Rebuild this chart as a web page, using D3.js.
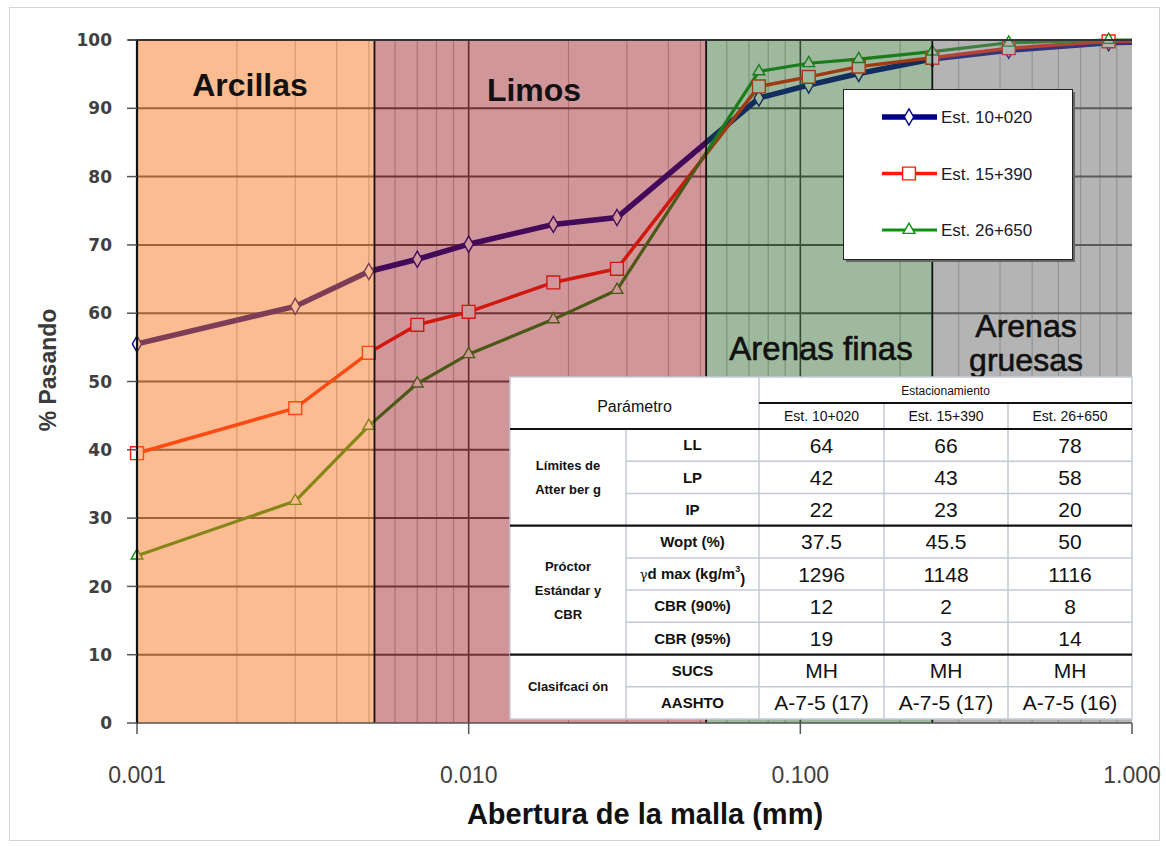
<!DOCTYPE html>
<meta charset="utf-8">
<style>
body { margin: 0; background: #fff; }
svg { display: block; }
.ytick text { font: bold 17px "DejaVu Sans", sans-serif; fill: #404040; }
.xtick text { font: 23px "Liberation Sans", sans-serif; fill: #404040; }
.zone-label { font-family: "Liberation Sans", Arial, sans-serif; fill: #111; }
.legend text { font: 17px "Liberation Sans", sans-serif; fill: #1a1a2a; }
.tbl text { font-family: "Liberation Sans", Arial, sans-serif; fill: #111; text-anchor: middle; }
</style>
<svg width="1166" height="846"></svg>
<script src="https://d3js.org/d3.v7.min.js"></script>
<script>

// sieve openings (mm) and % passing per station
var sizes     = [0.001, 0.003, 0.005, 0.007, 0.010, 0.018, 0.028, 0.075, 0.106, 0.150, 0.250, 0.425, 0.850, 2.0];
var est10020  = [55.5, 61.0, 66.1, 67.9, 70.1, 73.0, 74.0, 91.5, 93.4, 95.1, 97.2, 98.5, 99.6, 100];
var est15390  = [39.5, 46.1, 54.2, 58.3, 60.2, 64.5, 66.5, 93.2, 94.6, 96.1, 97.4, 98.8, 99.8, 100];
var est26650  = [24.5, 32.5, 43.5, 49.7, 54.0, 59.1, 63.4, 95.4, 96.6, 97.2, 98.3, 99.6, 100, 100];
var seriesNames = ["Est. 10+020", "Est. 15+390", "Est. 26+650"];

// soil zones
var zoneNames  = ["Arcillas", "Limos", "Arenas finas", "Arenas gruesas"];
var zoneBounds = [0.001, 0.0052, 0.052, 0.25, 1];

var yTicks = [0, 10, 20, 30, 40, 50, 60, 70, 80, 90, 100];
var xTicks = [0.001, 0.01, 0.1, 1];
var xTickLabels = ["0.001", "0.010", "0.100", "1.000"];

// table
var paramLabels = ["LL", "LP", "IP", "Wopt (%)", "γd max (kg/m3)", "CBR (90%)", "CBR (95%)", "SUCS", "AASHTO"];
var groupLabels = [["Límites de", "Atter ber g"], ["Próctor", "Estándar y", "CBR"], ["Clasifcaci ón"]];
var groupSizes  = [3, 4, 2];
var props10020  = ["64", "42", "22", "37.5", "1296", "12", "19", "MH", "A-7-5 (17)"];
var props15390  = ["66", "43", "23", "45.5", "1148", "2", "3", "MH", "A-7-5 (17)"];
var props26650  = ["78", "58", "20", "50", "1116", "8", "14", "MH", "A-7-5 (16)"];

var svg = d3.select("svg");

var x = d3.scaleLog().domain([0.001, 1]).range([137, 1132]);
var y = d3.scaleLinear().domain([0, 100]).range([723, 40]);

// outer frame
svg.append("rect").attr("x", 9.5).attr("y", 7.5).attr("width", 1150).attr("height", 833)
    .attr("fill", "#fff").attr("stroke", "#d4d4d4");

svg.append("clipPath").attr("id", "plotclip")
  .append("rect").attr("x", 120).attr("y", 20).attr("width", 1012).attr("height", 720);

// grid
var grid = svg.append("g");
var minor = [];
[0.001, 0.01, 0.1].forEach(function(d) {
  for (var k = 2; k <= 9; k++) minor.push(d * k);
});
grid.selectAll(".minor").data(minor).enter().append("line")
    .attr("x1", x).attr("x2", x).attr("y1", y(0)).attr("y2", y(100))
    .attr("stroke", "#bcbcbc").attr("stroke-width", 1.2);
grid.selectAll(".major").data([0.01, 0.1]).enter().append("line")
    .attr("x1", x).attr("x2", x).attr("y1", y(0)).attr("y2", y(100))
    .attr("stroke", "#3a3a3a").attr("stroke-width", 1.6);
grid.selectAll(".hgrid").data(yTicks.slice(1)).enter().append("line")
    .attr("x1", x(0.001)).attr("x2", x(1)).attr("y1", y).attr("y2", y)
    .attr("stroke", "#4a4a4a").attr("stroke-width", 2);

// series
var series = [
  {name: seriesNames[0], values: est10020, color: "#00008b", width: 5.5, shape: d3.symbolDiamond, size: 75},
  {name: seriesNames[1], values: est15390, color: "#ff1a00", width: 3.5, shape: d3.symbolSquare, size: 165},
  {name: seriesNames[2], values: est26650, color: "#109010", width: 3.2, shape: d3.symbolTriangle, size: 60}
];

var line = d3.line()
    .x(function(d) { return x(d[0]); })
    .y(function(d) { return y(d[1]); });

var plot = svg.append("g").attr("clip-path", "url(#plotclip)");
series.forEach(function(s) {
  var pts = sizes.map(function(d, i) { return [d, s.values[i]]; });
  plot.append("path")
      .attr("d", line(pts))
      .attr("fill", "none")
      .attr("stroke", s.color)
      .attr("stroke-width", s.width)
      .attr("stroke-linejoin", "round");
});
series.forEach(function(s) {
  var pts = sizes.map(function(d, i) { return [d, s.values[i]]; }).filter(function(p) { return p[0] <= 1; });
  plot.selectAll(null).data(pts).enter().append("path")
      .attr("transform", function(p) { return "translate(" + x(p[0]) + "," + y(p[1]) + ")"; })
      .attr("d", d3.symbol().type(s.shape).size(s.size))
      .attr("fill", "#fff")
      .attr("stroke", s.color)
      .attr("stroke-width", 1.4);
});

// translucent zones over everything
var zoneFill = ["rgba(249,122,36,0.5)", "rgba(150,22,32,0.45)", "rgba(40,100,40,0.45)", "rgba(105,105,105,0.5)"];
svg.append("g").selectAll("rect").data(zoneNames).enter().append("rect")
    .attr("x", function(d, i) { return x(zoneBounds[i]); })
    .attr("width", function(d, i) { return x(zoneBounds[i + 1]) - x(zoneBounds[i]); })
    .attr("y", y(100)).attr("height", y(0) - y(100))
    .attr("fill", function(d, i) { return zoneFill[i]; });

svg.append("g").selectAll("line").data(zoneBounds.slice(1, 4)).enter().append("line")
    .attr("x1", x).attr("x2", x).attr("y1", y(100)).attr("y2", y(0))
    .attr("stroke", "#111").attr("stroke-width", 1.8);

// zone labels
var zl = svg.append("g").attr("class", "zone-label");
zl.append("text").attr("x", 250).attr("y", 96).attr("text-anchor", "middle")
    .attr("font-size", 32).attr("font-weight", "bold").text(zoneNames[0]);
zl.append("text").attr("x", 534).attr("y", 101).attr("text-anchor", "middle")
    .attr("font-size", 32).attr("font-weight", "bold").text(zoneNames[1]);
zl.append("text").attr("x", 821).attr("y", 360).attr("text-anchor", "middle")
    .attr("font-size", 33).attr("stroke", "#111").attr("stroke-width", 0.6).text(zoneNames[2]);
var gr = zoneNames[3].split(" ");
zl.append("text").attr("x", 1026).attr("y", 337).attr("text-anchor", "middle")
    .attr("font-size", 32).attr("stroke", "#111").attr("stroke-width", 0.6).text(gr[0]);
zl.append("text").attr("x", 1026).attr("y", 371).attr("text-anchor", "middle")
    .attr("font-size", 32).attr("stroke", "#111").attr("stroke-width", 0.6).text(gr[1]);

// axes
svg.append("line").attr("x1", 128).attr("x2", x(1)).attr("y1", y(100)).attr("y2", y(100))
    .attr("stroke", "#333").attr("stroke-width", 2);
svg.append("line").attr("x1", x(0.001)).attr("x2", x(1)).attr("y1", y(0)).attr("y2", y(0))
    .attr("stroke", "#555").attr("stroke-width", 1.5);
svg.append("line").attr("x1", x(0.001)).attr("x2", x(0.001)).attr("y1", y(100)).attr("y2", y(0) + 1)
    .attr("stroke", "#111").attr("stroke-width", 2.2);

var yt = svg.append("g").attr("class", "ytick").selectAll("g").data(yTicks).enter().append("g")
    .attr("transform", function(d) { return "translate(0," + y(d) + ")"; });
yt.append("line").attr("x1", 127).attr("x2", 137).attr("stroke", "#555").attr("stroke-width", 1.5);
yt.append("text").attr("x", 112).attr("dy", "0.36em").attr("text-anchor", "end").text(function(d) { return d; });

var xt = svg.append("g").attr("class", "xtick").selectAll("g").data(xTicks).enter().append("g")
    .attr("transform", function(d) { return "translate(" + x(d) + ",0)"; });
xt.append("line").attr("y1", y(0)).attr("y2", y(0) + 11).attr("stroke", "#555").attr("stroke-width", 1.5);
xt.append("text").attr("y", 783).attr("text-anchor", "middle").text(function(d, i) { return xTickLabels[i]; });

svg.append("text").attr("x", 645).attr("y", 824).attr("text-anchor", "middle")
    .style("font", "bold 29px 'Liberation Sans Narrow', 'Liberation Sans', sans-serif")
    .attr("fill", "#111").text("Abertura de la malla (mm)");
svg.append("text").attr("transform", "translate(56,370) rotate(-90)").attr("text-anchor", "middle")
    .style("font", "bold 23px 'Liberation Sans', sans-serif")
    .attr("fill", "#3a3a3a").text("% Pasando");

// legend
var lg = svg.append("g").attr("class", "legend");
lg.append("rect").attr("x", 846).attr("y", 92).attr("width", 229).attr("height", 170).attr("fill", "#666");
lg.append("rect").attr("x", 843.5).attr("y", 89.5).attr("width", 229).attr("height", 170)
    .attr("fill", "#fff").attr("stroke", "#222").attr("stroke-width", 1);
series.forEach(function(s, i) {
  var ly = 117 + i * 56.5;
  lg.append("line").attr("x1", 882).attr("x2", 937).attr("y1", ly).attr("y2", ly)
      .attr("stroke", s.color).attr("stroke-width", s.width);
  lg.append("path").attr("transform", "translate(909," + ly + ")")
      .attr("d", d3.symbol().type(s.shape).size(s.size))
      .attr("fill", "#fff").attr("stroke", s.color).attr("stroke-width", 1.4);
  lg.append("text").attr("x", 941).attr("y", ly).attr("dy", "0.36em").text(s.name);
});

// table
var tb = svg.append("g").attr("class", "tbl");
var cols = [510, 626, 759, 884, 1008, 1132];
var tTop = 377, tMid = 403, tBody = 429, tBottom = 719;
var rowH = (tBottom - tBody) / paramLabels.length;
var thin = "#c3cad6";

tb.append("rect").attr("x", cols[0]).attr("y", tTop).attr("width", cols[5] - cols[0]).attr("height", tBottom - tTop)
    .attr("fill", "#fff").attr("stroke", thin).attr("stroke-width", 1.5);

// thin row lines
var groupStarts = [0, 3, 7];
d3.range(1, paramLabels.length).forEach(function(r) {
  if (groupStarts.indexOf(r) >= 0) return;
  tb.append("line").attr("x1", cols[1]).attr("x2", cols[5])
      .attr("y1", tBody + r * rowH).attr("y2", tBody + r * rowH)
      .attr("stroke", thin).attr("stroke-width", 1.5);
});
// vertical lines
tb.append("line").attr("x1", cols[1]).attr("x2", cols[1]).attr("y1", tBody).attr("y2", tBottom).attr("stroke", thin).attr("stroke-width", 1.5);
tb.append("line").attr("x1", cols[2]).attr("x2", cols[2]).attr("y1", tTop).attr("y2", tBottom).attr("stroke", thin).attr("stroke-width", 1.5);
[cols[3], cols[4]].forEach(function(c) {
  tb.append("line").attr("x1", c).attr("x2", c).attr("y1", tMid).attr("y2", tBottom).attr("stroke", thin).attr("stroke-width", 1.5);
});
// thick lines
tb.append("line").attr("x1", cols[2]).attr("x2", cols[5]).attr("y1", tMid).attr("y2", tMid).attr("stroke", "#111").attr("stroke-width", 2);
groupStarts.forEach(function(r) {
  var yy = tBody + r * rowH;
  tb.append("line").attr("x1", cols[0]).attr("x2", cols[5]).attr("y1", yy).attr("y2", yy).attr("stroke", "#111").attr("stroke-width", 2.2);
});

// header text
tb.append("text").attr("x", (cols[0] + cols[2]) / 2).attr("y", 406).attr("dy", "0.35em")
    .attr("font-size", 16).text("Parámetro");
tb.append("text").attr("x", (cols[2] + cols[5]) / 2).attr("y", 391).attr("dy", "0.35em")
    .attr("font-size", 12).text("Estacionamiento");
seriesNames.forEach(function(n, i) {
  tb.append("text").attr("x", (cols[2 + i] + cols[3 + i]) / 2).attr("y", 416).attr("dy", "0.35em")
      .attr("font-size", 14).text(n);
});

// group labels
var start = 0;
groupLabels.forEach(function(lines, g) {
  var cy = tBody + (start + groupSizes[g] / 2) * rowH;
  lines.forEach(function(t, j) {
    tb.append("text").attr("x", (cols[0] + cols[1]) / 2)
        .attr("y", cy + (j - (lines.length - 1) / 2) * 24).attr("dy", "0.35em")
        .attr("font-size", 13).attr("font-weight", "bold").attr("fill", "#222").text(t);
  });
  start += groupSizes[g];
});

// parameter labels
paramLabels.forEach(function(p, r) {
  var t = tb.append("text").attr("x", (cols[1] + cols[2]) / 2).attr("y", tBody + (r + 0.5) * rowH)
      .attr("dy", "0.35em").attr("font-size", 15).attr("font-weight", "bold");
  if (p.indexOf("γ") === 0) {
    t.append("tspan").attr("font-weight", "normal").attr("font-family", "'DejaVu Serif', serif").attr("font-size", 13).text("γ");
    t.append("tspan").text("d max (kg/m");
    t.append("tspan").attr("font-size", 9).attr("dy", "-0.8em").text("3");
    t.append("tspan").attr("dy", "0.8em").text(")");
  } else {
    t.text(p);
  }
});

// values
[props10020, props15390, props26650].forEach(function(vals, c) {
  tb.selectAll(null).data(vals).enter().append("text")
      .attr("x", (cols[2 + c] + cols[3 + c]) / 2)
      .attr("y", function(d, r) { return tBody + (r + 0.5) * rowH; })
      .attr("dy", "0.36em").attr("font-size", 21).attr("fill", "#222")
      .text(function(d) { return d; });
});

</script>
